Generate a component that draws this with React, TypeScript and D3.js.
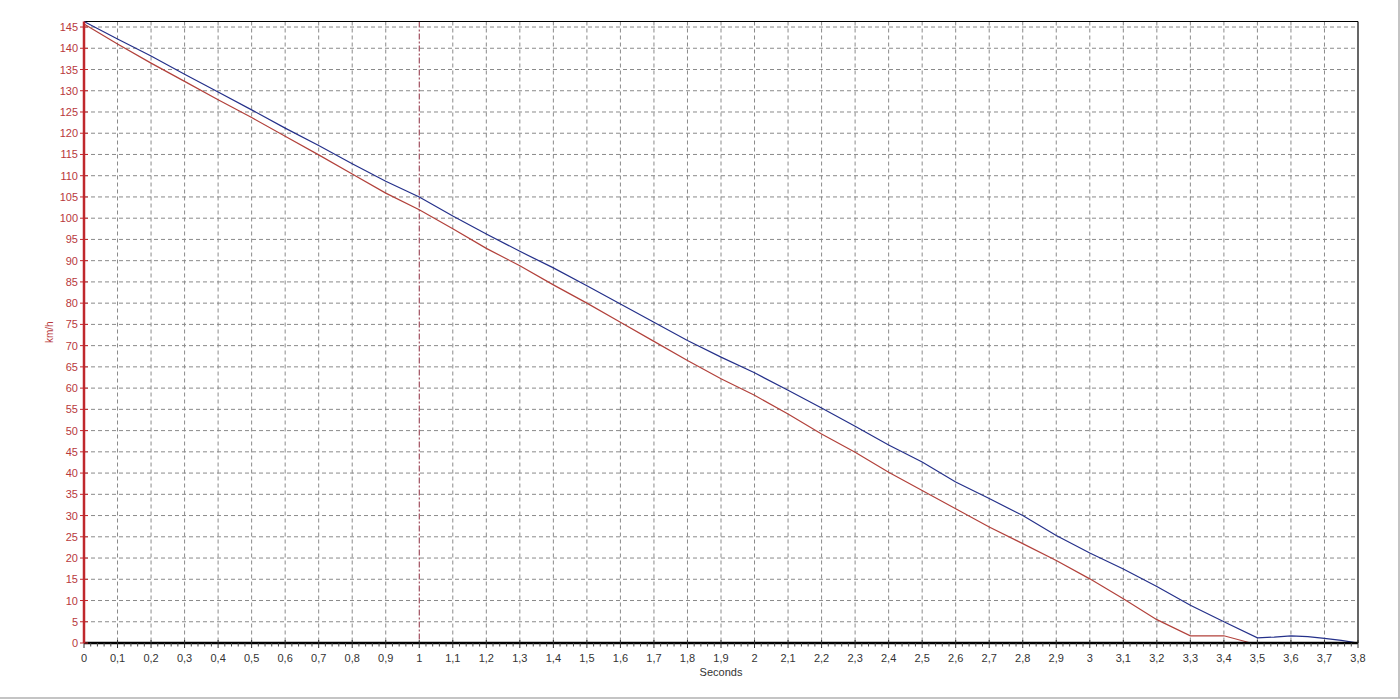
import React from "react";
import * as d3 from "d3";

const blueTimes = [0, 0.1, 0.2, 0.3, 0.4, 0.5, 0.6, 0.7, 0.8, 0.9, 1.0, 1.1, 1.2, 1.3, 1.4, 1.5, 1.6, 1.7, 1.8, 1.9, 2.0, 2.1, 2.2, 2.3, 2.4, 2.5, 2.6, 2.7, 2.8, 2.9, 3.0, 3.1, 3.2, 3.3, 3.4, 3.5, 3.55, 3.6, 3.65, 3.7, 3.75, 3.8];
const blueSpeed = [146.3, 142.2, 138.2, 133.9, 129.7, 125.5, 121.2, 117.1, 112.8, 108.7, 105.0, 100.5, 96.3, 92.2, 88.3, 84.1, 79.8, 75.5, 71.2, 67.3, 63.6, 59.5, 55.3, 51.0, 46.6, 42.6, 37.9, 34.0, 30.0, 25.3, 21.2, 17.4, 13.3, 8.9, 5.0, 1.2, 1.4, 1.7, 1.5, 1.1, 0.6, 0];

const redTimes = [0, 0.1, 0.2, 0.3, 0.4, 0.5, 0.6, 0.7, 0.8, 0.9, 1.0, 1.1, 1.2, 1.3, 1.4, 1.5, 1.6, 1.7, 1.8, 1.9, 2.0, 2.1, 2.2, 2.3, 2.4, 2.5, 2.6, 2.7, 2.8, 2.9, 3.0, 3.1, 3.2, 3.3, 3.4, 3.48];
const redSpeed = [145.7, 141.0, 136.5, 132.2, 127.9, 123.7, 119.3, 114.9, 110.4, 105.9, 102.0, 97.5, 92.9, 88.8, 84.3, 80.0, 75.5, 71.0, 66.5, 62.2, 58.3, 53.9, 49.2, 44.9, 40.2, 35.9, 31.6, 27.3, 23.4, 19.4, 15.1, 10.4, 5.5, 1.7, 1.7, 0];

const xTicks = d3.range(0, 39).map((i) => i / 10);
const yTicks = d3.range(0, 30).map((i) => i * 5);
const xLabel = "Seconds";
const yLabel = "km/h";
const markerTime = 1;

const W = 1400;
const H = 700;
const L = 84;
const R = 1358;
const T = 21.5;
const B = 643;
const FONT = "'Liberation Sans', Arial, sans-serif";

export default function App() {
  const x = d3.scaleLinear().domain([0, 3.8]).range([L, R]);
  const y = d3.scaleLinear().domain([0, 146.3]).range([B, T]);
  const blueLine = d3
    .line<number>()
    .x((_, i) => x(blueTimes[i]))
    .y((d) => y(d));
  const redLine = d3
    .line<number>()
    .x((_, i) => x(redTimes[i]))
    .y((d) => y(d));
  const minor = d3.range(0, 191).map((i) => i / 50).filter((_, i) => i % 5 !== 0);
  const fmt = (v: number) => (Math.round(v * 10) / 10).toString().replace(".", ",");

  return (
    <svg width={W} height={H} style={{ position: "absolute", left: 0, top: 0, background: "#fff" }}>
      <rect x={0} y={0} width={W} height={H} fill="#fff" />
      {/* window frame */}
      <line x1={0} x2={W} y1={698} y2={698} stroke="#b0b0b0" strokeWidth={1.5} />
      <line x1={1399} x2={1399} y1={0} y2={698} stroke="#b0b0b0" strokeWidth={1.5} />

      {/* grid */}
      {yTicks.filter((v) => v > 0).map((v) => (
        <line key={"hy" + v} x1={L} x2={R} y1={y(v)} y2={y(v)} stroke="#8a8a8a" strokeWidth={1} strokeDasharray="4,3" />
      ))}
      {xTicks.filter((v) => v > 0 && v < 3.8 && Math.abs(v - markerTime) > 1e-6).map((v) => (
        <line key={"gx" + v} x1={x(v)} x2={x(v)} y1={T} y2={B} stroke="#8a8a8a" strokeWidth={1} strokeDasharray="4,3" />
      ))}
      <line x1={x(markerTime)} x2={x(markerTime)} y1={T} y2={B} stroke="#8c2a3c" strokeWidth={1} strokeDasharray="6,2,2,2" />

      {/* borders */}
      <line x1={L} x2={R} y1={T} y2={T} stroke="#000" strokeWidth={1.2} />
      <line x1={R} x2={R} y1={T} y2={B} stroke="#000" strokeWidth={1.2} />

      {/* series */}
      <path d={redLine(redSpeed) || ""} fill="none" stroke="#b2413b" strokeWidth={1.2} />
      <path d={blueLine(blueSpeed) || ""} fill="none" stroke="#24308a" strokeWidth={1.2} />

      {/* x axis */}
      <line x1={L} x2={R} y1={B} y2={B} stroke="#000" strokeWidth={2.5} />
      {minor.map((v) => (
        <line key={"mx" + v} x1={x(v)} x2={x(v)} y1={B} y2={B + 3.5} stroke="#444" strokeWidth={1} />
      ))}
      {xTicks.map((v) => (
        <g key={"tx" + v}>
          <line x1={x(v)} x2={x(v)} y1={B - 3} y2={B + 5} stroke="#333" strokeWidth={1} />
          <text x={x(v)} y={662} textAnchor="middle" fontFamily={FONT} fontSize={11} fill="#333">
            {fmt(v)}
          </text>
        </g>
      ))}
      <text x={(L + R) / 2} y={676} textAnchor="middle" fontFamily={FONT} fontSize={11} fill="#333">
        {xLabel}
      </text>

      {/* y axis */}
      <line x1={L} x2={L} y1={T} y2={B} stroke="#c0282d" strokeWidth={2.5} />
      {yTicks.map((v) => (
        <g key={"ty" + v}>
          <line x1={L - 4} x2={L + 4} y1={y(v)} y2={y(v)} stroke="#c0282d" strokeWidth={1} />
          <text x={78} y={y(v) + 4} textAnchor="end" fontFamily={FONT} fontSize={11} fill="#b8383c">
            {v}
          </text>
        </g>
      ))}
      <text
        x={0}
        y={0}
        transform={`translate(53, ${(T + B) / 2}) rotate(-90)`}
        textAnchor="middle"
        fontFamily={FONT}
        fontSize={10}
        fill="#b8383c"
      >
        {yLabel}
      </text>
    </svg>
  );
}
